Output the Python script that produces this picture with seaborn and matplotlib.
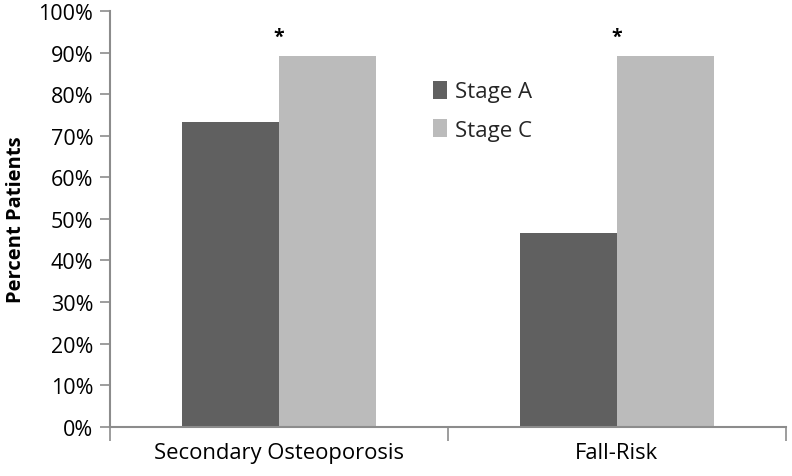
import pandas as pd
import seaborn as sns
import matplotlib.pyplot as plt
from matplotlib.ticker import FixedLocator, PercentFormatter

# Daten
kategorien = ["Secondary Osteoporosis", "Fall-Risk"]
stage_a = [73.3, 46.7]
stage_c = [89.2, 89.2]
signifikant = ["*", "*"]

df = pd.DataFrame({
    "kategorie": kategorien * 2,
    "stage": ["Stage A"] * 2 + ["Stage C"] * 2,
    "prozent": stage_a + stage_c,
})

sns.set_style("white")
plt.rcParams["font.family"] = ["Open Sans", "DejaVu Sans"]

fig = plt.figure(figsize=(7.92, 4.77), dpi=100)
ax = fig.add_axes([0.139, 0.103, 0.853, 0.872])

sns.barplot(data=df, x="kategorie", y="prozent", hue="stage",
            palette=["#606060", "#bbbbbb"], width=0.575, saturation=1,
            linewidth=0, ax=ax)

# Sternchen über den Gruppen
for i, s in enumerate(signifikant):
    ax.text(i, stage_c[i] + 4.6, s, ha="center", va="center", fontsize=14,
            fontweight="bold", color="black")

ax.set_ylim(0, 100)
ax.set_xlim(-0.5, 1.5)
ax.yaxis.set_major_locator(FixedLocator(range(0, 101, 10)))
ax.yaxis.set_major_formatter(PercentFormatter(decimals=0))

# x-Achse: Striche zwischen den Kategorien, Beschriftung in der Mitte
ax.set_xticks([-0.5, 0.5, 1.5])
ax.set_xticklabels([])
ax.set_xticks([0, 1], minor=True)
ax.set_xticklabels(kategorien, minor=True)
ax.tick_params(axis="x", which="major", length=10, width=1.2, color="#8c8c8c", direction="out", bottom=True)
ax.tick_params(axis="x", which="minor", length=0, labelsize=15.8, pad=11, labelcolor="black")
ax.tick_params(axis="y", length=7, width=1.2, color="#8c8c8c", direction="out", left=True,
               labelsize=15.5, pad=5, labelcolor="black")

for side in ["top", "right"]:
    ax.spines[side].set_visible(False)
for side in ["left", "bottom"]:
    ax.spines[side].set_color("#8c8c8c")
    ax.spines[side].set_linewidth(1.5)

ax.set_xlabel("")
ax.set_ylabel("Percent Patients", fontsize=14.5, fontweight="bold", labelpad=9, color="black")

ax.legend(title=None, frameon=False, loc="upper left", bbox_to_anchor=(0.448, 0.88),
          fontsize=16, handlelength=0.65, handleheight=0.85, handletextpad=0.35, labelspacing=0.75)

fig.savefig("out.png", dpi=100)
